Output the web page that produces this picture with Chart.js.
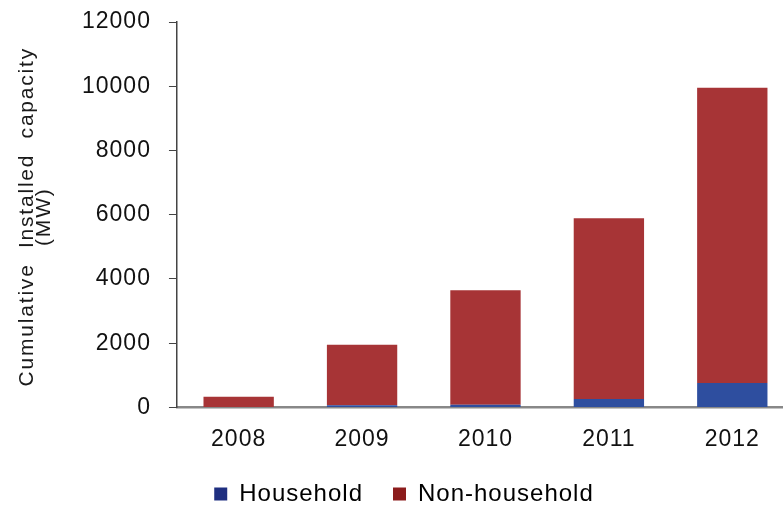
<!DOCTYPE html>
<html lang="en">
<head>
    <meta charset="UTF-8">
    <title>Cumulative Installed capacity</title>
    <script src="https://cdn.jsdelivr.net/npm/chart.js"></script>
    <style>
        html, body {
            margin: 0;
            padding: 0;
            background: #fff;
            overflow: hidden;
        }
        .wrap {
            width: 800px;
            height: 506px;
        }
    </style>
</head>
<body>
    <div class="wrap">
        <canvas id="capacityChart" width="800" height="506"></canvas>
    </div>
    <script>
        // values (MW)
        const years = ['2008', '2009', '2010', '2011', '2012'];
        const household = [10, 70, 80, 260, 760];
        const nonHousehold = [320, 1880, 3570, 5630, 9190];
        const yTicks = [0, 2000, 4000, 6000, 8000, 10000, 12000];
        const yTitle = ['Cumulative  Installed  capacity', '(MW)'];

        const font = 'Liberation Sans, Arial, sans-serif';

        // the source text is drawn a bit wide, so add letter spacing
        const spacing = {
            id: 'spacing',
            beforeLayout(chart) { chart.ctx.letterSpacing = '1px'; },
            beforeDraw(chart) { chart.ctx.letterSpacing = '1px'; }
        };

        // rotated y title, drawn by hand so it can get its own spacing
        const sideTitle = {
            id: 'sideTitle',
            afterDraw(chart) {
                const c = chart.ctx;
                const area = chart.chartArea;
                const mid = (area.top + area.bottom) / 2 + 2;
                c.save();
                c.letterSpacing = '1.8px';
                c.fillStyle = '#1a1a1a';
                c.font = '21px ' + font;
                c.textAlign = 'center';
                c.textBaseline = 'middle';
                c.translate(27, mid);
                c.rotate(-Math.PI / 2);
                c.fillText(yTitle[0], 0, 0);
                c.fillText(yTitle[1], 0, 17);
                c.restore();
            }
        };

        const ctx = document.getElementById('capacityChart').getContext('2d');
        new Chart(ctx, {
            type: 'bar',
            data: {
                labels: years,
                datasets: [
                    {
                        label: 'Household',
                        data: household,
                        backgroundColor: '#2e4e9f',
                        borderWidth: 0,
                        barPercentage: 0.57,
                        categoryPercentage: 1.0
                    },
                    {
                        label: 'Non-household',
                        data: nonHousehold,
                        backgroundColor: '#a73436',
                        borderWidth: 0,
                        barPercentage: 0.57,
                        categoryPercentage: 1.0
                    }
                ]
            },
            plugins: [spacing, sideTitle],
            options: {
                responsive: false,
                animation: false,
                layout: {
                    padding: { top: 22, left: 14, right: 6, bottom: -10 }
                },
                plugins: {
                    tooltip: { enabled: false },
                    legend: {
                        position: 'bottom',
                        labels: {
                            color: '#111',
                            boxWidth: 13,
                            boxHeight: 13,
                            padding: 30,
                            font: { family: font, size: 24 },
                            generateLabels: function(chart) {
                                const cols = ['#1f2f80', '#8c1c1c'];
                                return chart.data.datasets.map((ds, i) => ({
                                    text: ds.label,
                                    fillStyle: cols[i],
                                    strokeStyle: cols[i],
                                    lineWidth: 0,
                                    datasetIndex: i
                                }));
                            }
                        }
                    }
                },
                scales: {
                    x: {
                        stacked: true,
                        grid: { display: false, drawTicks: false },
                        border: { display: true, color: '#888', width: 2.5 },
                        ticks: {
                            color: '#111',
                            padding: 18,
                            font: { family: font, size: 23 }
                        },
                        afterFit(scale) { scale.height -= 19; }
                    },
                    y: {
                        stacked: true,
                        min: 0,
                        max: 12000,
                        afterBuildTicks: function(axis) {
                            axis.ticks = yTicks.map(v => ({ value: v }));
                        },
                        afterFit(scale) {
                            scale.width += 50;
                            scale.paddingTop = 0;
                        },
                        border: { display: true, color: '#444', width: 1.5 },
                        grid: {
                            drawOnChartArea: false,
                            drawTicks: true,
                            tickLength: 8,
                            color: '#444'
                        },
                        ticks: {
                            color: '#111',
                            padding: 18,
                            font: { family: font, size: 23 },
                            callback: v => String(v)
                        }
                    }
                }
            }
        });
    </script>
</body>
</html>
